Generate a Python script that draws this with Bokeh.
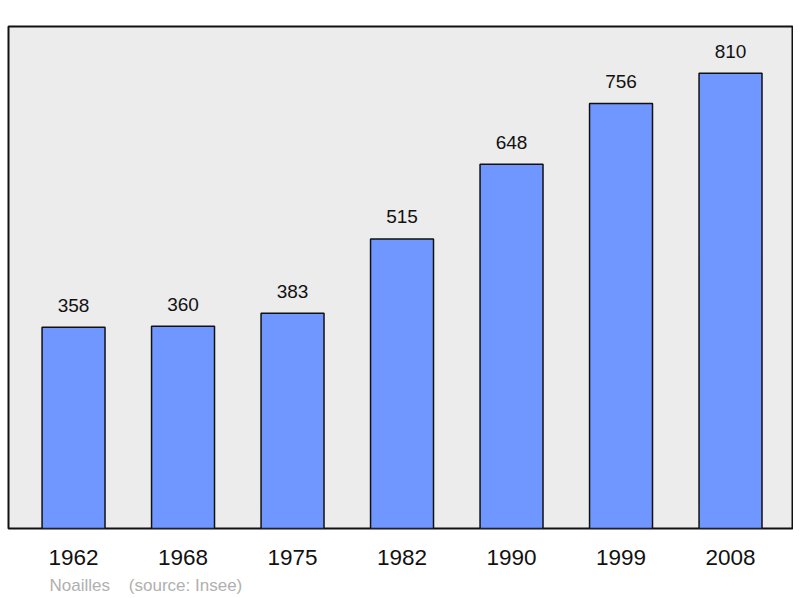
from bokeh.plotting import figure
from bokeh.models import Range1d, ColumnDataSource, Title, FixedTicker
from bokeh.core.properties import value
from bokeh.embed import file_html
from bokeh.resources import INLINE

years = ["1962", "1968", "1975", "1982", "1990", "1999", "2008"]
population = [358, 360, 383, 515, 648, 756, 810]
footer_text = "Noailles\u00a0\u00a0\u00a0\u00a0(source: Insee)"

idx = list(range(len(years)))
src = ColumnDataSource(dict(x=idx, top=population, lbl=[str(v) for v in population]))

p = figure(frame_width=784, frame_height=502, output_backend="svg", toolbar_location=None,
           x_range=Range1d(-0.594, 6.566), y_range=Range1d(0, 893),
           min_border_top=26, min_border_left=8, min_border_right=1, min_border_bottom=0)
p.background_fill_color = "#ececec"
p.border_fill_color = "white"
p.outline_line_color = "#111111"
p.outline_line_width = 2
p.grid.visible = False
p.yaxis.visible = False

p.vbar(x="x", top="top", bottom=0, width=0.575, source=src,
       fill_color="#7096ff", line_color="#111111", line_width=1.5)
p.text(x="x", y="top", text="lbl", source=src, text_align="center",
       text_baseline="alphabetic", y_offset=-22,
       text_font=value("Liberation Sans"), text_font_size="19px", text_color="#111111")

xa = p.xaxis[0]
xa.ticker = FixedTicker(ticks=idx)
xa.major_label_overrides = {i: y for i, y in zip(idx, years)}
xa.axis_line_color = None
xa.major_tick_line_color = None
xa.minor_tick_line_color = None
xa.major_label_standoff = 15
xa.major_label_text_font = "Liberation Sans"
xa.major_label_text_font_size = "22.5px"
xa.major_label_text_color = "#111111"

t = Title(text=footer_text, align="left", offset=41, text_font="Liberation Sans",
          text_font_size="17px", text_font_style="normal", text_color="#b0b0b0", standoff=12)
p.add_layout(t, "below")

open("out.html", "w").write(file_html(p, INLINE))
